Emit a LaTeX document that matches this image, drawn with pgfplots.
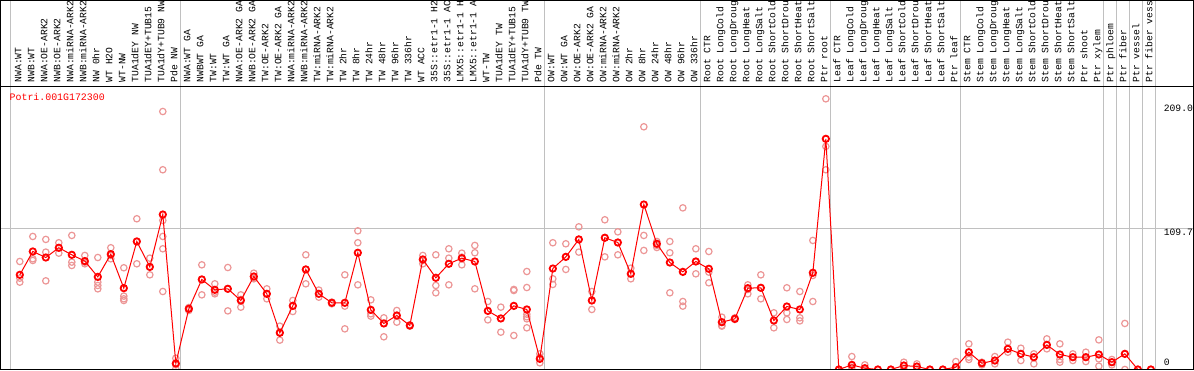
\documentclass[border=0pt]{standalone}
\usepackage{pgfplots}
\usepackage{pgfplotstable}
\pgfplotsset{compat=1.18}
\usepackage{fontspec}
\newfontfamily\labfont{Liberation Mono}
\definecolor{gridgray}{RGB}{192,192,192}
\definecolor{reppink}{RGB}{236,150,150}
\definecolor{meanred}{RGB}{255,0,0}

\pgfplotstableread{
x y
0 73.8
1 92.0
2 87.3
3 94.9
4 89.4
5 84.5
6 72.2
7 89.9
8 63.4
9 99.8
10 80.0
11 120.8
12 4.7
13 47.3
14 70.2
15 62.1
16 62.9
17 53.8
18 72.5
19 59.0
20 28.6
21 49.6
22 78.0
23 59.0
24 52.0
25 52.0
26 91.0
27 46.5
28 35.9
29 42.1
30 34.3
31 85.8
32 71.5
33 82.4
34 86.8
35 84.2
36 45.7
37 39.8
38 49.6
39 46.8
40 8.3
41 78.7
42 87.8
43 101.4
44 53.8
45 102.7
46 99.0
47 74.6
48 128.6
49 98.0
50 83.4
51 76.1
52 84.2
53 78.5
54 36.9
55 39.5
56 63.4
57 63.7
58 38.2
59 49.1
60 46.8
61 75.4
62 179.8
63 0
64 3.6
65 1.0
66 0
67 0
68 3.1
69 2.3
70 0
71 0
72 1.8
73 13.5
74 4.9
75 7.0
76 16.1
77 12.2
78 9.6
79 19.2
80 11.7
81 9.6
82 9.6
83 11.7
84 5.7
85 12.2
86 0
87 0
}\means

\pgfplotstableread{
x y
0 84.2
0 71.2
0 68.1
1 103.7
1 86.3
1 85.0
2 101.4
2 91.5
2 69.1
3 98.8
3 94.6
3 90.7
4 104.5
4 83.7
4 81.1
5 88.9
5 83.7
5 82.4
6 87.3
6 68.1
6 65.5
6 62.9
7 94.9
7 88.9
7 86.3
8 79.3
8 57.2
8 55.1
8 53.8
9 117.5
9 99.8
9 82.4
10 86.8
10 79.8
10 73.8
11 201.1
11 155.7
11 116.2
11 103.7
11 94.1
11 60.8
12 8.8
12 3.6
12 0.5
13 48.3
13 47.3
13 46.0
14 81.6
14 70.2
14 58.2
15 66.8
15 60.3
15 59.0
16 79.5
16 62.9
16 45.7
17 58.2
17 54.6
17 48.6
18 75.1
18 71.2
18 70.7
19 62.9
19 59.0
19 55.1
20 33.8
20 29.1
20 22.9
21 53.8
21 49.9
21 45.2
22 89.4
22 78.0
22 66.8
23 61.9
23 59.0
23 56.4
24 52.5
24 52.0
24 51.2
25 73.8
25 49.4
25 31.7
26 108.1
26 98.8
26 66.0
27 54.3
27 43.4
27 41.6
28 40.3
28 35.9
28 25.5
29 46.0
29 42.1
29 36.9
30 34.8
30 34.3
30 33.8
31 88.9
31 85.0
31 82.4
32 89.4
32 65.5
32 59.8
33 94.1
33 86.8
33 66.0
34 90.7
34 87.6
34 81.6
35 96.7
35 91.0
35 62.9
36 53.0
36 45.7
36 38.7
37 48.6
37 39.8
37 29.1
38 62.4
38 61.6
38 26.5
39 76.4
39 63.9
39 43.1
39 41.1
39 39.5
39 32.5
40 12.2
40 9.6
40 5.2
41 98.8
41 70.7
41 66.3
42 98.0
42 87.8
42 78.0
43 111.2
43 101.4
43 91.5
44 60.8
44 53.8
44 46.8
45 116.7
45 102.7
45 87.8
46 107.3
46 99.0
46 89.4
47 79.0
47 74.6
47 70.7
48 189.2
48 104.5
48 92.8
49 99.8
49 96.7
49 95.1
50 99.8
50 91.0
50 59.8
51 126.0
51 53.0
51 49.4
52 94.1
52 84.2
52 74.6
53 92.0
53 75.9
53 67.6
54 40.8
54 34.3
54 33.8
55 40.3
55 39.5
55 39.0
56 66.0
56 62.4
56 59.0
57 73.8
57 63.7
57 55.1
58 44.2
58 38.2
58 32.5
59 63.7
59 44.2
59 39.0
60 60.8
60 40.3
60 37.9
61 100.6
61 73.3
61 53.0
62 211.0
62 173.9
62 155.7
63 0
63 0
64 10.1
64 1.8
64 0
65 3.6
65 0
66 0
67 0
68 5.7
68 3.1
68 0.5
69 4.4
69 2.3
69 0.5
70 0
71 0
72 6.2
72 0
73 20.0
73 9.6
73 7.8
74 5.7
74 4.9
74 3.6
75 10.1
75 7.0
75 4.4
76 21.3
76 16.1
76 13.5
77 16.6
77 12.2
77 7.0
78 12.2
78 9.6
78 4.4
79 23.9
79 19.2
79 16.1
80 20.0
80 7.8
80 5.7
81 12.2
81 9.6
81 7.0
82 13.5
82 9.6
82 6.2
83 23.1
83 8.3
83 2.6
84 7.8
84 5.7
84 3.6
85 35.9
85 12.2
85 0
86 0
87 0
}\reps

\begin{document}
\begin{tikzpicture}[x=1pt,y=1pt]
\begin{axis}[
  at={(0.5pt,0.5pt)}, anchor=south west,
  width=1193pt, height=283pt, scale only axis,
  xmin=-1.485, xmax=90.28, ymin=0, ymax=220.6,
  axis line style={black, line width=1pt},
  xtick={0,...,87},
  xticklabels={NWA:WT, NWB:WT, NWA:OE-ARK2, NWB:OE-ARK2, NWA:miRNA-ARK2, NWB:miRNA-ARK2, NW 0hr, WT H2O, WT-NW, TUA1dEY NW, TUA1dEY+TUB15, TUA1dY+TUB9 NW, Pde NW,
    NWA:WT GA, NWBWT GA, TW:WT, TW:WT GA, NWA:OE-ARK2 GA, NWB:OE-ARK2 GA, TW:OE-ARK2, TW:OE-ARK2 GA, NWA:miRNA-ARK2, NWB:miRNA-ARK2, TW:miRNA-ARK2, TW:miRNA-ARK2, TW 2hr, TW 8hr, TW 24hr, TW 48hr, TW 96hr, TW 336hr, WT ACC, 35S::etr1-1 H2, 35S::etr1-1 AC, LMX5::etr1-1 H, LMX5::etr1-1 A, WT-TW, TUA1dEY TW, TUA1dEY+TUB15, TUA1dY+TUB9 TW, Pde TW,
    OW:WT, OW:WT GA, OW:OE-ARK2, OW:OE-ARK2 GA, OW:miRNA-ARK2, OW:miRNA-ARK2, OW 2hr, OW 8hr, OW 24hr, OW 48hr, OW 96hr, OW 336hr,
    Root CTR, Root LongCold, Root LongDroug, Root LongHeat, Root LongSalt, Root ShortCold, Root ShortDrou, Root ShortHeat, Root ShortSalt, Ptr root,
    Leaf CTR, Leaf LongCold, Leaf LongDroug, Leaf LongHeat, Leaf LongSalt, Leaf ShortCold, Leaf ShortDrou, Leaf ShortHeat, Leaf ShortSalt, Ptr leaf,
    Stem CTR, Stem LongCold, Stem LongDroug, Stem LongHeat, Stem LongSalt, Stem ShortCold, Stem ShortDrou, Stem ShortHeat, Stem ShortSalt, Ptr shoot, Ptr xylem,
    Ptr phloem, Ptr fiber, Ptr vessel, Ptr fiber vess},
  xticklabel pos=right,
  xticklabel shift=4pt,
  xticklabel style={rotate=90, anchor=west, inner sep=0pt, text height=6pt, text depth=3pt, font=\labfont\fontsize{9.7}{10}\selectfont, text=black},
  major tick length=0pt,
  ytick={109.7}, yticklabels={},
  ymajorgrids, xmajorgrids=false,
  grid style={color=gridgray, line width=1pt},
  clip mode=individual,
  clip marker paths=true,
]
\pgfplotsinvokeforeach{-0.715,12.38,40.38,52.38,62.38,72.38,83.38,84.38,85.38,86.38,87.38}{
  \draw[gridgray, line width=1pt] (axis cs:#1,0) -- ([yshift=86pt]axis cs:#1,220.6);
}
\addplot[only marks, mark=o, mark size=3.2pt, mark options={draw=reppink, line width=1.2pt}] table[x=x,y=y] {\reps};
\addplot[meanred, line width=1pt, mark=o, mark size=3.2pt, mark options={draw=meanred, line width=1.8pt, solid}] table[x=x,y=y] {\means};
\node[anchor=north west, inner sep=0pt, font=\labfont\fontsize{9.7}{10}\selectfont] at ([yshift=-3pt]axis cs:87.98,209) {209.0};
\node[anchor=north west, inner sep=0pt, font=\labfont\fontsize{9.7}{10}\selectfont] at ([yshift=0pt]axis cs:87.98,109.7) {109.7};
\node[anchor=south west, inner sep=0pt, font=\labfont\fontsize{9.7}{10}\selectfont] at ([yshift=4pt]axis cs:87.98,0) {0};
\end{axis}
\node[anchor=west, inner sep=0pt, text=meanred, font=\labfont\fontsize{9.9}{10}\selectfont] at (9.5,273) {Potri.001G172300};
\draw[black, line width=1pt] (0.5,0.5) rectangle (1193.5,369.5);
\draw[black, line width=1pt] (0.5,283.5) -- (1193.5,283.5);
\pgfresetboundingbox
\path[use as bounding box] (0,0) rectangle (1194,370);
\end{tikzpicture}
\end{document}
